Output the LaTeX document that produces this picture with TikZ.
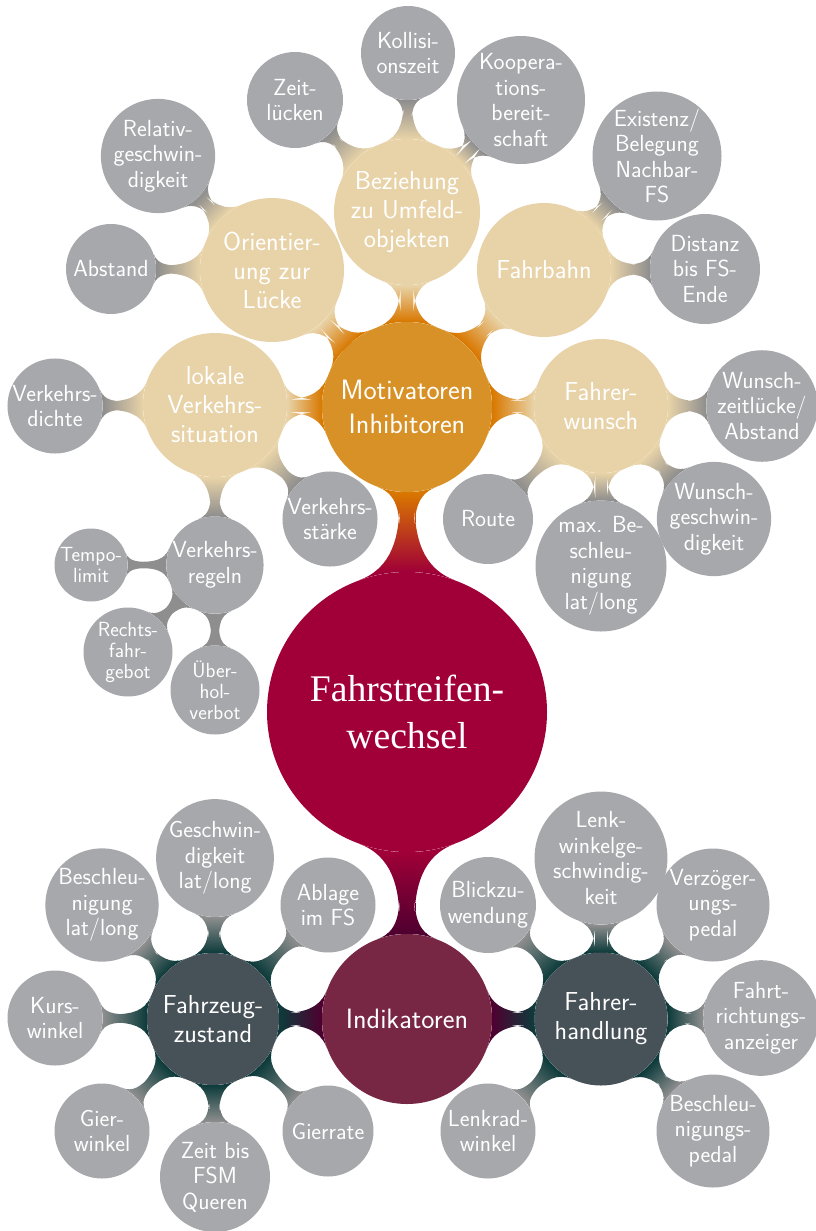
\documentclass[tikz,border=0pt]{standalone}
\usepackage{fontspec}
\newfontfamily\rootfont{Liberation Serif}
\usetikzlibrary{mindmap,backgrounds}
\definecolor{crim}{HTML}{A00037}
\definecolor{orfill}{HTML}{D89126}
\definecolor{orbar}{HTML}{D97800}
\definecolor{beige}{HTML}{E8D3A8}
\definecolor{grayfill}{HTML}{A7A8AC}
\definecolor{graybar}{HTML}{8E8E8E}
\definecolor{indfill}{HTML}{772644}
\definecolor{indbar}{HTML}{4E0030}
\definecolor{slate}{HTML}{465158}
\definecolor{tealbar}{HTML}{0D3B3B}
\tikzset{
  basec/.style={circle, inner sep=0pt, text=white, align=center},
  rootc/.style={basec, fill=crim, minimum size=280pt, font=\rootfont\fontsize{37.6}{47}\selectfont},
  lone/.style={basec, fill=#1, minimum size=170pt, font=\sffamily\fontsize{28}{34}\selectfont},
  ltwo/.style={basec, fill=#1, font=\sffamily\fontsize{26}{29}\selectfont},
  lthree/.style={basec, fill=grayfill, font=\sffamily\fontsize{23.3}{25.5}\selectfont},
  lfour/.style={basec, fill=grayfill, font=\sffamily\fontsize{20.5}{21}\selectfont},
}
\newcommand\conbar[5]{\path[line width=#5] (#1) to[circle connection bar switch color=from (#3) to (#4)] (#2);}
\begin{document}
\begin{tikzpicture}[x=1pt,y=1pt]
\useasboundingbox (0,0) rectangle (816,-1231);
% root and level 1
\node[rootc] (C) at (407,-712) {Fahrstreifen-\\wechsel};
\node[lone=orfill] (M) at (407,-407) {Motivatoren\\Inhibitoren};
\node[lone=indfill] (I) at (407,-1019) {Indikatoren};
% level 2 top
\node[ltwo=beige, minimum size=144pt] (L) at (215,-405) {lokale\\Verkehrs-\\situation};
\node[ltwo=beige, minimum size=144pt] (O) at (272,-270) {Orientier-\\ung zur\\Lücke};
\node[ltwo=beige, minimum size=146pt] (B) at (407,-212) {Beziehung\\zu Umfeld-\\objekten};
\node[ltwo=beige, minimum size=134pt] (F) at (544,-270) {Fahrbahn};
\node[ltwo=beige, minimum size=134pt] (W) at (601,-406) {Fahrer-\\wunsch};
% level 3 top
\node[lthree, minimum size=95pt] (dichte) at (55,-406) {Verkehrs-\\dichte};
\node[lthree, minimum size=90pt] (abst) at (111,-269) {Abstand};
\node[lthree, minimum size=113pt] (relg) at (158,-156) {Relativ-\\geschwin-\\digkeit};
\node[lthree, minimum size=96pt] (zeitl) at (295,-100) {Zeit-\\lücken};
\node[lthree, minimum size=94pt] (koll) at (408,-53) {Kollisi-\\onszeit};
\node[lthree, minimum size=128pt] (koop) at (521,-100) {Koopera-\\tions-\\bereit-\\schaft};
\node[lthree, minimum size=129pt] (exist) at (657,-156) {Existenz/\\Belegung\\Nachbar-\\FS};
\node[lthree, minimum size=110pt] (dist) at (705,-269) {Distanz\\bis FS-\\Ende};
\node[lthree, minimum size=110pt] (wzl) at (762,-406) {Wunsch-\\zeitlücke/\\Abstand};
\node[lthree, minimum size=113pt] (wgs) at (714,-519) {Wunsch-\\geschwin-\\digkeit};
\node[lthree, minimum size=131pt] (maxb) at (601,-566) {max. Be-\\schleu-\\nigung\\lat/long};
\node[lthree, minimum size=90pt] (route) at (488,-519) {Route};
\node[lthree, minimum size=94pt] (vst) at (330,-519) {Verkehrs-\\stärke};
\node[lthree, minimum size=95pt] (vreg) at (215,-565) {Verkehrs-\\regeln};
% level 4
\node[lfour, minimum size=73pt] (tempo) at (91,-565) {Tempo-\\limit};
\node[lfour, minimum size=89pt] (rechts) at (128,-652) {Rechts-\\fahr-\\gebot};
\node[lfour, minimum size=89pt] (ueber) at (215,-690) {Über-\\hol-\\verbot};
% level 2 bottom
\node[ltwo=slate, minimum size=132pt] (Z) at (213,-1019) {Fahrzeug-\\zustand};
\node[ltwo=slate, minimum size=133pt] (H) at (601,-1019) {Fahrer-\\handlung};
% level 3 bottom left
\node[lthree, minimum size=113pt] (bll) at (102,-905) {Beschleu-\\nigung\\lat/long};
\node[lthree, minimum size=113pt] (gll) at (215,-858) {Geschwin-\\digkeit\\lat/long};
\node[lthree, minimum size=95pt] (abl) at (328,-905) {Ablage\\im FS};
\node[lthree, minimum size=95pt] (kurs) at (55,-1018) {Kurs-\\winkel};
\node[lthree, minimum size=95pt] (gierw) at (102,-1131) {Gier-\\winkel};
\node[lthree, minimum size=110pt] (zbis) at (215,-1177) {Zeit bis\\FSM\\Queren};
\node[lthree, minimum size=91pt] (gierr) at (328,-1131) {Gierrate};
% level 3 bottom right
\node[lthree, minimum size=96pt] (blick) at (488,-905) {Blickzu-\\wendung};
\node[lthree, minimum size=128pt] (lwg) at (601,-858) {Lenk-\\winkelge-\\schwindig-\\keit};
\node[lthree, minimum size=113pt] (verz) at (713,-905) {Verzöger-\\ungs-\\pedal};
\node[lthree, minimum size=110pt] (fra) at (761,-1018) {Fahrt-\\richtungs-\\anzeiger};
\node[lthree, minimum size=113pt] (bped) at (713,-1131) {Beschleu-\\nigungs-\\pedal};
\node[lthree, minimum size=95pt] (lrw) at (488,-1131) {Lenkrad-\\winkel};
\begin{pgfonlayer}{background}
\conbar{C}{M}{crim}{orbar}{20pt}
\conbar{C}{I}{crim}{indbar}{20pt}
\conbar{M}{L}{orbar}{beige}{14pt}
\conbar{M}{O}{orbar}{beige}{14pt}
\conbar{M}{B}{orbar}{beige}{14pt}
\conbar{M}{F}{orbar}{beige}{14pt}
\conbar{M}{W}{orbar}{beige}{14pt}
\conbar{L}{dichte}{beige}{graybar}{9pt}
\conbar{L}{vst}{beige}{graybar}{9pt}
\conbar{L}{vreg}{beige}{graybar}{9pt}
\conbar{vreg}{tempo}{graybar}{graybar}{8pt}
\conbar{vreg}{rechts}{graybar}{graybar}{8pt}
\conbar{vreg}{ueber}{graybar}{graybar}{8pt}
\conbar{O}{abst}{beige}{graybar}{9pt}
\conbar{O}{relg}{beige}{graybar}{9pt}
\conbar{B}{zeitl}{beige}{graybar}{9pt}
\conbar{B}{koll}{beige}{graybar}{9pt}
\conbar{B}{koop}{beige}{graybar}{9pt}
\conbar{F}{exist}{beige}{graybar}{9pt}
\conbar{F}{dist}{beige}{graybar}{9pt}
\conbar{W}{wzl}{beige}{graybar}{9pt}
\conbar{W}{wgs}{beige}{graybar}{9pt}
\conbar{W}{maxb}{beige}{graybar}{9pt}
\conbar{W}{route}{beige}{graybar}{9pt}
\conbar{I}{Z}{indbar}{tealbar}{14pt}
\conbar{I}{H}{indbar}{tealbar}{14pt}
\conbar{Z}{bll}{tealbar}{graybar}{9pt}
\conbar{Z}{gll}{tealbar}{graybar}{9pt}
\conbar{Z}{abl}{tealbar}{graybar}{9pt}
\conbar{Z}{kurs}{tealbar}{graybar}{9pt}
\conbar{Z}{gierw}{tealbar}{graybar}{9pt}
\conbar{Z}{zbis}{tealbar}{graybar}{9pt}
\conbar{Z}{gierr}{tealbar}{graybar}{9pt}
\conbar{H}{blick}{tealbar}{graybar}{9pt}
\conbar{H}{lwg}{tealbar}{graybar}{9pt}
\conbar{H}{verz}{tealbar}{graybar}{9pt}
\conbar{H}{fra}{tealbar}{graybar}{9pt}
\conbar{H}{bped}{tealbar}{graybar}{9pt}
\conbar{H}{lrw}{tealbar}{graybar}{9pt}
\end{pgfonlayer}
\end{tikzpicture}
\end{document}
